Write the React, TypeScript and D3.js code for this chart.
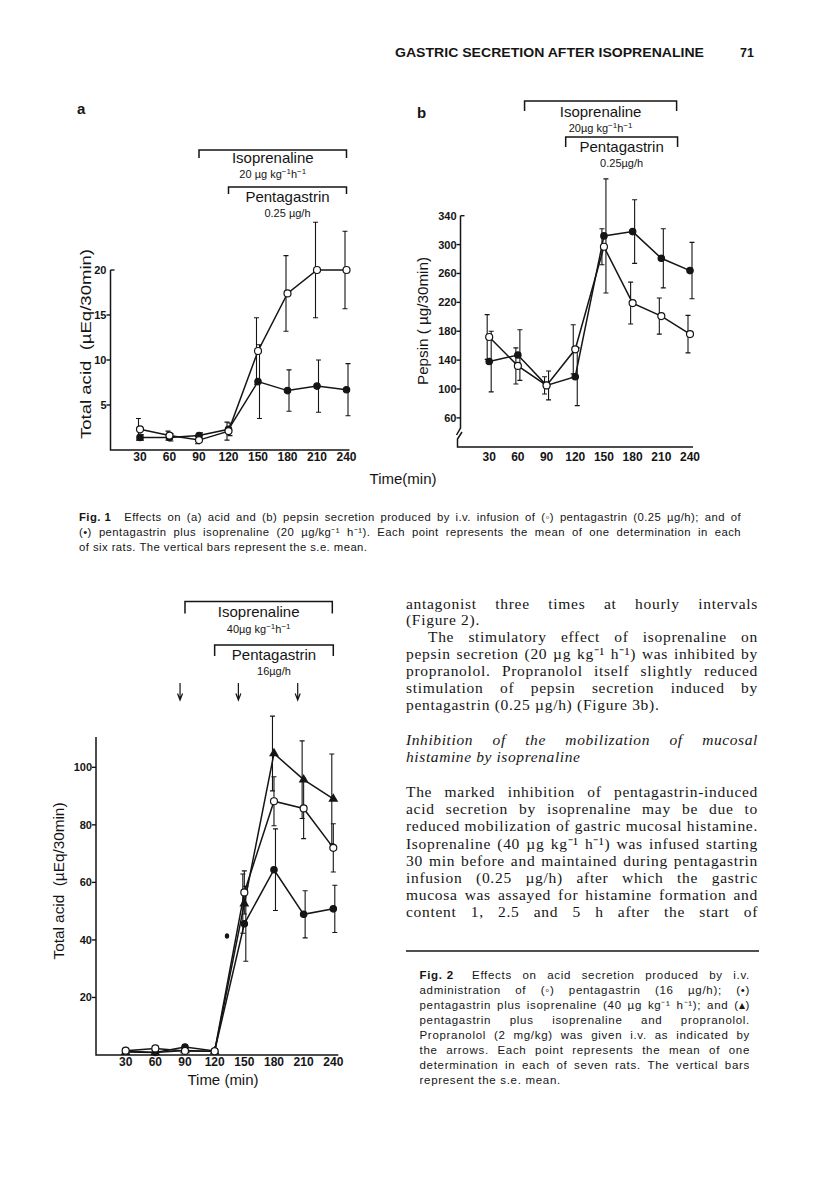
import React from 'react';
import * as d3 from 'd3';

const INK = '#151515';
const SANS = "'Liberation Sans', Arial, sans-serif";
const SERIF = "'Liberation Serif', 'Times New Roman', serif";

// sampling times (min)
const TIMES = [30, 60, 90, 120, 150, 180, 210, 240];

// Fig. 1a  total acid (uEq/30 min)
const acidPenta = [2.3, 1.6, 1.1, 2.1, 11.0, 17.4, 20.0, 20.0];
const acidPentaSE = [1.2, 0.5, 0.4, 1.0, 3.7, 4.2, 5.3, 4.3];
const acidPentaIso = [1.4, 1.4, 1.6, 2.3, 7.6, 6.6, 7.1, 6.7];
const acidPentaIsoSE = [0.3, 0.4, 0.3, 0.7, 4.1, 2.3, 2.9, 2.9];

// Fig. 1b  pepsin (ug/30 min)
const pepsinPenta = [172, 132, 105, 155, 297, 219, 201, 176];
const pepsinPentaSE = [31, 25, 12, 34, 25, 29, 25, 26];
const pepsinPentaIso = [138, 147, 105, 117, 312, 318, 281, 264];
const pepsinPentaIsoSE = [42, 35, 20, 40, 79, 44, 41, 39];

// Fig. 2  total acid (uEq/30 min)
const acid2Penta = [1.5, 2.3, 1.4, 1.3, 56.5, 88.2, 85.7, 72.0];
const acid2PentaSE = [0, 0, 0, 0, 7.5, 8.5, 10.5, 8.4];
const acid2PentaIso = [1.4, 0.9, 2.8, 1.4, 45.6, 64.4, 48.9, 50.8];
const acid2PentaIsoSE = [0, 0, 0, 0, 13.0, 14.2, 8.2, 8.2];
const acid2Prop = [1.0, 0.9, 1.6, 1.2, 52.6, 104.8, 95.7, 89.0];
const acid2PropSE = [0, 0, 0, 0, 10.3, 13.0, 13.5, 15.6];

// infusion periods [start, end] in min, as drawn
const iso1a = [90, 240];
const penta1a = [120, 240];
const iso1b = [67, 226];
const penta1b = [110, 227];
const iso2 = [90, 239];
const penta2 = [120, 240];
// propranolol injections (arrows)
const propArrows = [85, 144, 204];

const acidTicks1 = [5, 10, 15, 20];
const pepsinTicks = [60, 100, 140, 180, 220, 260, 300, 340];
const acidTicks2 = [20, 40, 60, 80, 100];

const x1a = d3.scaleLinear().domain([0, 240]).range([110.5, 346.5]);
const y1a = d3.scaleLinear().domain([0, 20]).range([450, 270]);
const x1b = d3.scaleLinear().domain([0, 240]).range([460.5, 690]);
const y1b = d3.scaleLinear().domain([100, 340]).range([389, 215.7]);
const x2 = d3.scaleLinear().domain([0, 240]).range([96, 333.3]);
const y2 = d3.scaleLinear().domain([0, 100]).range([1055, 767.3]);

const line = d3.line<[number, number]>();
const tri = d3.symbol().type(d3.symbolTriangle).size(42)() as string;

type Series = { vals: number[]; se: number[]; kind: 'open' | 'filled' | 'tri'; off: number };

function Plot({ xs, ys, series }: { xs: any; ys: any; series: Series[] }) {
  return (
    <g>
      {series.map((s, k) => (
        <path key={'l' + k} d={line(TIMES.map((t, i) => [xs(t), ys(s.vals[i])]))!}
          fill="none" stroke={INK} strokeWidth={1.5} />
      ))}
      {series.map((s, k) => TIMES.map((t, i) => {
        if (!s.se[i]) return null;
        const x = xs(t) + s.off;
        const top = ys(s.vals[i] + s.se[i]);
        const bot = ys(s.vals[i] - s.se[i]);
        return (
          <path key={'e' + k + i} d={`M${x - 2.5},${top}H${x + 2.5}M${x},${top}V${bot}M${x - 2.5},${bot}H${x + 2.5}`}
            fill="none" stroke={INK} strokeWidth={1.1} />
        );
      }))}
      {series.map((s, k) => TIMES.map((t, i) => {
        const cx = xs(t), cy = ys(s.vals[i]);
        if (s.kind === 'tri') return <path key={'m' + k + i} d={tri} transform={`translate(${cx},${cy})`} fill={INK} />;
        return <circle key={'m' + k + i} cx={cx} cy={cy} r={s.kind === 'open' ? 3.5 : 3.2}
          fill={s.kind === 'open' ? '#fff' : INK} stroke={INK} strokeWidth={1.2} />;
      }))}
    </g>
  );
}

function XLabels({ xs, y }: { xs: any; y: number }) {
  return (
    <g fontSize={12} fontWeight="bold" textAnchor="middle">
      {TIMES.map(t => <text key={t} x={xs(t)} y={y}>{t}</text>)}
    </g>
  );
}

function YTicks({ x, ys, ticks, hookTop }: { x: number; ys: any; ticks: number[]; hookTop: boolean }) {
  const top = ticks[ticks.length - 1];
  return (
    <g>
      {ticks.map(v => (
        <g key={v}>
          {hookTop && v === top
            ? <path d={`M${x},${ys(v)}h4`} stroke={INK} strokeWidth={1.4} />
            : <path d={`M${x - 4},${ys(v)}H${x}`} stroke={INK} strokeWidth={1.4} />}
          <text x={x - 4} y={ys(v)} dy="0.36em" textAnchor="end" fontSize={11} fontWeight="bold">{v}</text>
        </g>
      ))}
    </g>
  );
}

function Bracket({ xs, period, y, drop, name, dose, nameDy, doseDy }:
  { xs: any; period: number[]; y: number; drop: number; name: string; dose: React.ReactNode; nameDy: number; doseDy: number }) {
  const a = xs(period[0]), b = xs(period[1]);
  const c = (a + b) / 2;
  return (
    <g>
      <path d={`M${a},${y + drop}V${y}H${b}V${y + drop}`} fill="none" stroke={INK} strokeWidth={1.5} />
      <text x={c} y={y + nameDy} textAnchor="middle" fontSize={15}>{name}</text>
      <text x={c} y={y + doseDy} textAnchor="middle" fontSize={11}>{dose}</text>
    </g>
  );
}

const perKgH = (lead: string) => (
  <>
    {lead}kg<tspan dy={-4} fontSize={8}>−1</tspan><tspan dy={4}>h</tspan><tspan dy={-4} fontSize={8}>−1</tspan>
  </>
);

let ctx: CanvasRenderingContext2D | null = null;
function measure(s: string, font: string, ls: number) {
  if (!ctx) ctx = document.createElement('canvas').getContext('2d');
  ctx!.font = font;
  return ctx!.measureText(s).width + ls * [...s].length;
}

function TLine({ x, y, w, text, size, family, italic, justify, boldFirst, ls }:
  { x: number; y: number; w: number; text: string; size: number; family: string; italic?: boolean; justify: boolean; boldFirst?: boolean; ls: number }) {
  const words = text.split(' ');
  const fam = family.split(',')[0];
  const fontOf = (i: number) => `${italic ? 'italic ' : ''}${boldFirst && i === 0 ? 'bold ' : ''}${size}px ${fam}`;
  const widths = words.map((wd, i) => measure(wd, fontOf(i), ls));
  const total = widths.reduce((a, b) => a + b, 0);
  const gap = justify && words.length > 1 ? (w - total) / (words.length - 1) : measure(' ', fontOf(1), ls);
  let cx = x;
  return (
    <g fontFamily={family} fontSize={size} fontStyle={italic ? 'italic' : 'normal'} letterSpacing={ls}>
      {words.map((wd, i) => {
        const el = <text key={i} x={cx} y={y} fontWeight={boldFirst && i === 0 ? 'bold' : 'normal'}>{wd}</text>;
        cx += widths[i] + gap;
        return el;
      })}
    </g>
  );
}

const body1 = [
  { t: 'antagonist three times at hourly intervals', j: true, ind: 0 },
  { t: '(Figure 2).', j: false, ind: 0 },
  { t: 'The stimulatory effect of isoprenaline on', j: true, ind: 22 },
  { t: 'pepsin secretion (20 µg kg⁻¹ h⁻¹) was inhibited by', j: true, ind: 0 },
  { t: 'propranolol. Propranolol itself slightly reduced', j: true, ind: 0 },
  { t: 'stimulation of pepsin secretion induced by', j: true, ind: 0 },
  { t: 'pentagastrin (0.25 µg/h) (Figure 3b).', j: false, ind: 0 },
];
const heading = [
  { t: 'Inhibition of the mobilization of mucosal', j: true },
  { t: 'histamine by isoprenaline', j: false },
];
const body2 = [
  { t: 'The marked inhibition of pentagastrin-induced', j: true },
  { t: 'acid secretion by isoprenaline may be due to', j: true },
  { t: 'reduced mobilization of gastric mucosal histamine.', j: true },
  { t: 'Isoprenaline (40 µg kg⁻¹ h⁻¹) was infused starting', j: true },
  { t: '30 min before and maintained during pentagastrin', j: true },
  { t: 'infusion (0.25 µg/h) after which the gastric', j: true },
  { t: 'mucosa was assayed for histamine formation and', j: true },
  { t: 'content 1, 2.5 and 5 h after the start of', j: true },
];
const cap1 = [
  { t: 'Fig.\u00a01\u00a0\u00a0 Effects on (a) acid and (b) pepsin secretion produced by i.v. infusion of (◦) pentagastrin (0.25 µg/h); and of', j: true, b: true },
  { t: '(•) pentagastrin plus isoprenaline (20 µg/kg⁻¹ h⁻¹). Each point represents the mean of one determination in each', j: true, b: false },
  { t: 'of six rats. The vertical bars represent the s.e. mean.', j: false, b: false },
];
const cap2 = [
  { t: 'Fig.\u00a02\u00a0\u00a0 Effects on acid secretion produced by i.v.', j: true, b: true },
  { t: 'administration of (◦) pentagastrin (16 µg/h); (•)', j: true, b: false },
  { t: 'pentagastrin plus isoprenaline (40 µg kg⁻¹ h⁻¹); and (▴)', j: true, b: false },
  { t: 'pentagastrin plus isoprenaline and propranolol.', j: true, b: false },
  { t: 'Propranolol (2 mg/kg) was given i.v. as indicated by', j: true, b: false },
  { t: 'the arrows. Each point represents the mean of one', j: true, b: false },
  { t: 'determination in each of seven rats. The vertical bars', j: true, b: false },
  { t: 'represent the s.e. mean.', j: false, b: false },
];

export default function App() {
  return (
    <div style={{ position: 'absolute', left: 0, top: 0, width: 816, height: 1179, background: '#fff' }}>
      <svg width={816} height={1179} viewBox="0 0 816 1179" style={{ display: 'block' }} fontFamily={SANS} fill={INK}>
        {/* running head */}
        <text x={395} y={57} fontSize={12.5} fontWeight="bold" textLength={309} lengthAdjust="spacingAndGlyphs">GASTRIC SECRETION AFTER ISOPRENALINE</text>
        <text x={740} y={57} fontSize={12.5} fontWeight="bold">71</text>

        {/* ---------- Fig 1a ---------- */}
        <text x={77} y={114} fontSize={15} fontWeight="bold">a</text>
        <Bracket xs={x1a} period={iso1a} y={150} drop={8} name="Isoprenaline" dose={perKgH('20 µg  ')} nameDy={13} doseDy={28} />
        <Bracket xs={x1a} period={penta1a} y={187} drop={7} name="Pentagastrin" dose="0.25 µg/h" nameDy={15} doseDy={30} />
        <path d={`M${x1a(0)},${y1a(20)}V${y1a(0)}H${x1a(240) + 3}`} fill="none" stroke={INK} strokeWidth={1.5} />
        <YTicks x={x1a(0)} ys={y1a} ticks={acidTicks1} hookTop={true} />
        <XLabels xs={x1a} y={461} />
        <text transform={`translate(91,344) rotate(-90)`} textAnchor="middle" fontSize={15} textLength={190} lengthAdjust="spacingAndGlyphs">Total acid{'\u00a0\u00a0'}(µEq/30min)</text>
        <Plot xs={x1a} ys={y1a} series={[
          { vals: acidPentaIso, se: acidPentaIsoSE, kind: 'filled', off: 1.5 },
          { vals: acidPenta, se: acidPentaSE, kind: 'open', off: -1.5 },
        ]} />

        {/* ---------- Fig 1b ---------- */}
        <text x={417} y={118} fontSize={15} fontWeight="bold">b</text>
        <Bracket xs={x1b} period={iso1b} y={101} drop={10} name="Isoprenaline" dose={perKgH('20µg  ')} nameDy={16} doseDy={31} />
        <Bracket xs={x1b} period={penta1b} y={137} drop={10} name="Pentagastrin" dose="0.25µg/h" nameDy={15} doseDy={30} />
        <path d={`M${x1b(0)},${y1b(340)}V${428}L${x1b(0) - 4},${435}`} fill="none" stroke={INK} strokeWidth={1.5} />
        <path d={`M${x1b(0) + 1.5},${432}L${x1b(0) - 3},${439}V${447}H${x1b(240) + 3}`} fill="none" stroke={INK} strokeWidth={1.5} />
        <YTicks x={x1b(0)} ys={y1b} ticks={pepsinTicks} hookTop={true} />
        <XLabels xs={x1b} y={461} />
        <text transform={`translate(428,321) rotate(-90)`} textAnchor="middle" fontSize={15} textLength={128} lengthAdjust="spacingAndGlyphs">Pepsin ({'\u00a0'}µg/30min)</text>
        <Plot xs={x1b} ys={y1b} series={[
          { vals: pepsinPentaIso, se: pepsinPentaIsoSE, kind: 'filled', off: 2 },
          { vals: pepsinPenta, se: pepsinPentaSE, kind: 'open', off: -2 },
        ]} />

        <text x={403} y={484} textAnchor="middle" fontSize={15}>Time(min)</text>

        {/* Fig 1 caption */}
        {cap1.map((l, i) => (
          <TLine key={i} x={79} y={521 + i * 15.2} w={662} text={l.t} size={11.3} family={SANS} justify={l.j} boldFirst={l.b} ls={0.45} />
        ))}

        {/* ---------- Fig 2 ---------- */}
        <Bracket xs={x2} period={iso2} y={601.5} drop={12} name="Isoprenaline" dose={perKgH('40µg ')} nameDy={15} doseDy={31} />
        <Bracket xs={x2} period={penta2} y={645} drop={11} name="Pentagastrin" dose="16µg/h" nameDy={14.5} doseDy={30} />
        {propArrows.map(t => (
          <path key={t} d={`M${x2(t)},683V699M${x2(t) - 2.5},693.5L${x2(t)},700L${x2(t) + 2.5},693.5`} fill="none" stroke={INK} strokeWidth={1.2} />
        ))}
        <path d={`M${x2(0)},${y2(110.5)}V${y2(0)}H${x2(240) + 5}`} fill="none" stroke={INK} strokeWidth={1.5} />
        <YTicks x={x2(0)} ys={y2} ticks={acidTicks2} hookTop={false} />
        <XLabels xs={x2} y={1066} />
        <text x={223} y={1085} textAnchor="middle" fontSize={15}>Time (min)</text>
        <text transform={`translate(64,881) rotate(-90)`} textAnchor="middle" fontSize={15} textLength={157} lengthAdjust="spacingAndGlyphs">Total acid{'\u00a0\u00a0'}(µEq/30min)</text>
        <Plot xs={x2} ys={y2} series={[
          { vals: acid2Prop, se: acid2PropSE, kind: 'tri', off: -1.5 },
          { vals: acid2PentaIso, se: acid2PentaIsoSE, kind: 'filled', off: 1.5 },
          { vals: acid2Penta, se: acid2PentaSE, kind: 'open', off: 0 },
        ]} />
        <ellipse cx={227} cy={936} rx={2.2} ry={2.8} fill={INK} />

        {/* ---------- body text ---------- */}
        {body1.map((l, i) => (
          <TLine key={i} x={406 + l.ind} y={608.5 + i * 16.95} w={352 - l.ind} text={l.t} size={15.5} family={SERIF} justify={l.j} ls={0.7} />
        ))}
        {heading.map((l, i) => (
          <TLine key={i} x={406} y={744.5 + i * 17.2} w={352} text={l.t} size={15.5} family={SERIF} italic justify={l.j} ls={0.6} />
        ))}
        {body2.map((l, i) => (
          <TLine key={i} x={406} y={797 + i * 17.2} w={352} text={l.t} size={15.5} family={SERIF} justify={l.j} ls={0.7} />
        ))}
        <path d="M406,951H759" stroke={INK} strokeWidth={1.4} />

        {/* Fig 2 caption */}
        {cap2.map((l, i) => (
          <TLine key={i} x={419.5} y={978.5 + i * 15.1} w={330.5} text={l.t} size={11.5} family={SANS} justify={l.j} boldFirst={l.b} ls={0.7} />
        ))}
      </svg>
    </div>
  );
}
